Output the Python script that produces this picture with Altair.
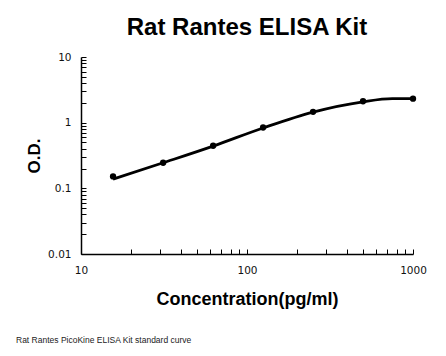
import altair as alt
import pandas as pd

# standard points
conc = [15.6, 31.25, 62.5, 125, 250, 500, 1000]
od = [0.152, 0.245, 0.445, 0.845, 1.46, 2.12, 2.32]

# fitted curve
fit_conc = [15.6, 31.25, 62.5, 125, 250, 500, 750, 1000]
fit_od = [0.138, 0.245, 0.44, 0.83, 1.45, 2.08, 2.32, 2.32]

x_ticks = [10, 20, 30, 40, 50, 60, 70, 80, 90, 100, 200, 300, 400, 500, 600, 700, 800, 900, 1000]
x_labels = [10, 100, 1000]
y_ticks = [0.01, 0.02, 0.03, 0.04, 0.05, 0.06, 0.07, 0.08, 0.09, 0.1, 0.2, 0.3, 0.4, 0.5, 0.6, 0.7, 0.8, 0.9,
           1, 2, 3, 4, 5, 6, 7, 8, 9, 10]
y_labels = [0.01, 0.1, 1, 10]

title = "Rat Rantes ELISA Kit"
x_title = "Concentration(pg/ml)"
y_title = "O.D."
caption = "Rat Rantes PicoKine ELISA Kit standard curve"

W, H = 332, 197

pts = pd.DataFrame({"conc": conc, "od": od})
fit = pd.DataFrame({"conc": fit_conc, "od": fit_od})

xs = alt.Scale(type="log", domain=[10, 1000], nice=False)
ys = alt.Scale(type="log", domain=[0.01, 10], nice=False)

label_font = "DejaVu Sans"

x_main = alt.Axis(values=x_labels, ticks=False, tickSize=0, grid=False, domainColor="black",
                  domainWidth=1.5, labelFont=label_font, labelFontSize=10.5, labelColor="#111",
                  labelFlush=False, labelPadding=11, title=x_title, titleFont="Liberation Sans",
                  titleFontSize=18, titleFontWeight="bold", titlePadding=15, titleColor="black",
                  format="d")
y_main = alt.Axis(values=y_labels, ticks=False, tickSize=0, grid=False, domainColor="black",
                  domainWidth=1.5, labelFont=label_font, labelFontSize=10.5, labelColor="#111",
                  labelFlush=False, labelPadding=10, title=y_title, titleFont="Liberation Sans",
                  titleFontSize=17, titleFontWeight="bold", titlePadding=4, titleColor="black",
                  labelExpr="datum.value >= 1 ? format(datum.value, 'd') : format(datum.value, '')")

x_tick_axis = alt.Axis(orient="top", offset=-H, values=x_ticks, labels=False, domain=False,
                       ticks=True, tickSize=5, tickColor="black", tickWidth=1, grid=False, title=None)
y_tick_axis = alt.Axis(orient="right", offset=-W, values=y_ticks, labels=False, domain=False,
                       ticks=True, tickSize=5, tickColor="black", tickWidth=1, grid=False, title=None)

line = alt.Chart(fit).mark_line(color="black", strokeWidth=2.8, interpolate="monotone").encode(
    x=alt.X("conc:Q", scale=xs, axis=x_main),
    y=alt.Y("od:Q", scale=ys, axis=y_main),
)

points = alt.Chart(pts).mark_point(filled=True, color="black", size=40, opacity=1).encode(
    x=alt.X("conc:Q", scale=xs, axis=x_tick_axis),
    y=alt.Y("od:Q", scale=ys, axis=y_tick_axis),
)

cap = alt.Chart(pd.DataFrame({"t": [caption]})).mark_text(
    align="left", baseline="middle", font="Liberation Sans", fontSize=8.5, color="#222"
).encode(x=alt.value(-65), y=alt.value(H + 86), text="t:N")

chart = alt.layer(line, points, cap).resolve_axis(x="independent", y="independent").properties(
    width=W, height=H,
    autosize=alt.AutoSizeParams(type="none"),
    padding={"left": 73, "top": 49, "right": 25, "bottom": 94},
    title=alt.TitleParams(title, font="Liberation Sans", fontSize=24, fontWeight="bold",
                          color="black", anchor="middle", offset=12),
).configure_view(stroke=None)

chart.save("out.html", embed_options={"renderer": "svg", "actions": False})
